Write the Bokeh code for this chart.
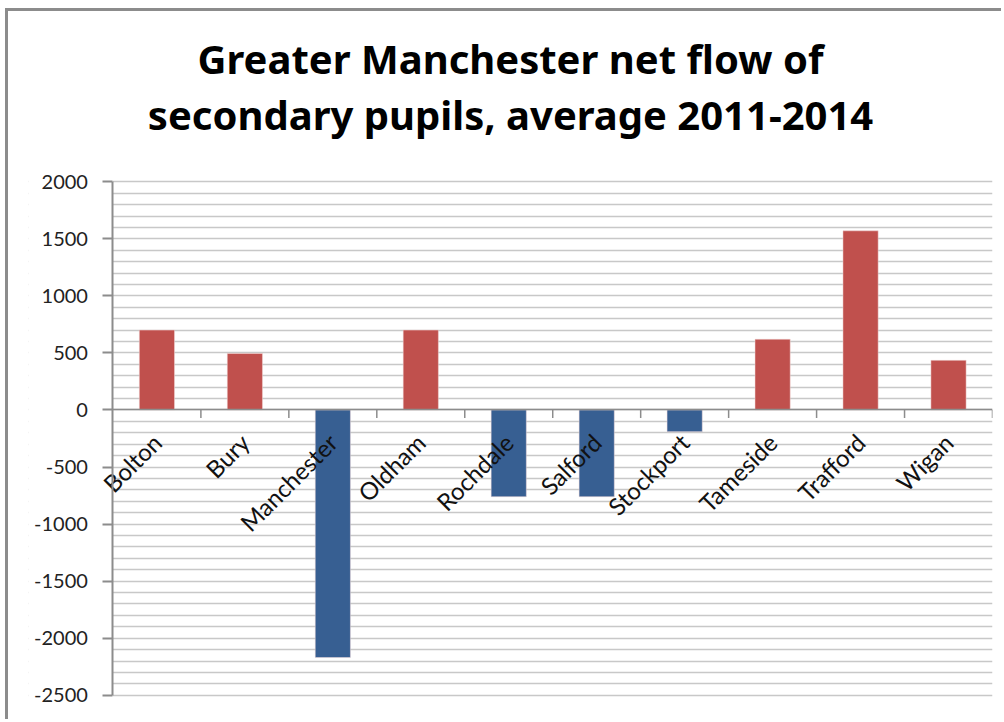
import math

from bokeh.embed import file_html
from bokeh.models import (BoxAnnotation, ColumnDataSource, FixedTicker,
                          LinearAxis, NumeralTickFormatter, Range1d,
                          SingleIntervalTicker, Title)
from bokeh.plotting import figure
from bokeh.resources import INLINE

# Net flow of secondary pupils by borough (average 2011-2014)
boroughs = ["Bolton", "Bury", "Manchester", "Oldham", "Rochdale",
            "Salford", "Stockport", "Tameside", "Trafford", "Wigan"]
net_flow = [700, 495, -2170, 700, -760, -760, -190, 620, 1570, 435]

RED = "#C0504D"
BLUE = "#375F92"

pos = [i + 0.5 for i in range(len(boroughs))]
colors = [RED if v >= 0 else BLUE for v in net_flow]
src = ColumnDataSource(dict(x=pos, top=net_flow, color=colors))

# the frame reaches a little past the axes on every side so the rotated
# category labels and the end tick labels are not cut; both axes are pinned
# inside it
p = figure(width=996, height=711, output_backend="svg", toolbar_location=None,
           x_range=Range1d(-0.96, 10), y_range=Range1d(-2590, 2090),
           x_axis_location=None, y_axis_location=None,
           min_border_left=20, min_border_right=12, min_border_bottom=17,
           min_border_top=160)
p.margin = (8, 0, 0, 5)
p.styles = {"border-top": "3px solid #8c8c8c", "border-left": "3px solid #8c8c8c"}
p.outline_line_color = None
p.background_fill_color = "white"
p.border_fill_color = "white"

# two-line title (second line added first so it sits nearer the plot)
title_style = dict(align="center", offset=-42, text_font="Noto Sans",
                   text_font_size="40px", text_font_style="bold",
                   text_color="black")
p.add_layout(Title(text="secondary pupils, average 2011-2014", standoff=60,
                   **title_style), "above")
p.add_layout(Title(text="Greater Manchester net flow of", standoff=-62,
                   **title_style), "above")

# horizontal gridlines every 100, only over the category area
p.xgrid.visible = False
p.ygrid.ticker = SingleIntervalTicker(interval=100)
p.ygrid.grid_line_color = "#c8c8c8"
p.ygrid.grid_line_width = 1.5
p.add_layout(BoxAnnotation(right=0, fill_color="white", fill_alpha=1,
                           line_color=None, level="underlay"))

# value axis
yax = LinearAxis(fixed_location=0, bounds=(-2500, 2000),
                 ticker=SingleIntervalTicker(interval=500, num_minor_ticks=0),
                 formatter=NumeralTickFormatter(format="0"),
                 axis_line_color="#8c8c8c", axis_line_width=2,
                 major_tick_line_color="#8c8c8c", major_tick_line_width=2,
                 major_tick_out=10, major_tick_in=0, minor_tick_line_color=None,
                 major_label_text_font="Lato", major_label_text_font_size="20px",
                 major_label_text_color="#222222", major_label_standoff=15)
p.add_layout(yax, "left")

# bars
p.vbar(x="x", top="top", bottom=0, width=0.4, fill_color="color",
       line_color="#f0d8d8", line_width=0.5, source=src)

# category axis crossing at zero: labels at bar centres, ticks between bars
bounds = list(range(1, len(boroughs) + 1))
p.ray(x=bounds, y=[0] * len(bounds), length=8, length_units="screen",
      angle=-math.pi / 2, line_color="#8c8c8c", line_width=1.5)

xax = LinearAxis(fixed_location=0, bounds=(0, 10), ticker=FixedTicker(ticks=pos),
                 major_label_overrides={x: name for x, name in zip(pos, boroughs)},
                 major_label_orientation=math.pi / 4,
                 axis_line_color="#8c8c8c", axis_line_width=1.5,
                 major_tick_line_color=None, minor_tick_line_color=None,
                 major_label_standoff=22,
                 major_label_text_font="Lato", major_label_text_font_size="24px",
                 major_label_text_color="#111111")
p.add_layout(xax, "below")

open("out.html", "w").write(file_html(p, INLINE))
